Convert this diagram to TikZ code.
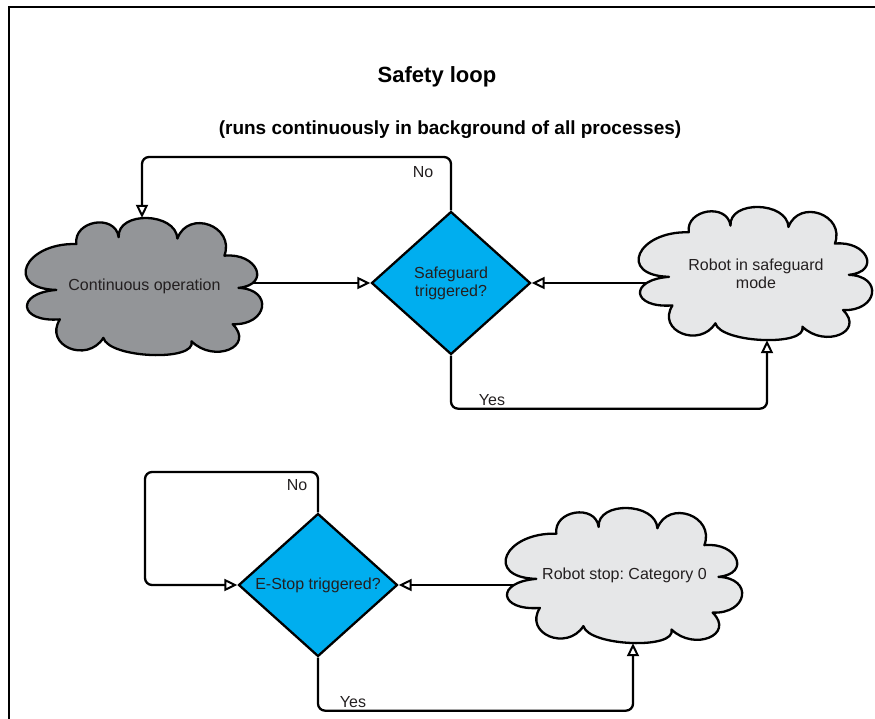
\documentclass[tikz,border=0pt]{standalone}
\usepackage{fontspec}
\setmainfont{Liberation Sans}
\usetikzlibrary{shapes.geometric,arrows.meta,backgrounds}
\definecolor{diafill}{RGB}{0,174,239}
\definecolor{darkcloud}{RGB}{147,149,152}
\definecolor{lightcloud}{RGB}{230,231,232}
\definecolor{txt}{RGB}{35,31,32}
\frenchspacing
\newcommand{\mycloudpath}{(-0.75,0.05) .. controls (-1.197,0.03) and (-1.027,-0.64) .. (-0.58,-0.62) .. controls (-0.607,-0.967) and (-0.247,-1.067) .. (-0.22,-0.72) .. controls (-0.233,-1.107) and (0.267,-1.087) .. (0.28,-0.70) .. controls (0.373,-1.133) and (0.773,-0.883) .. (0.68,-0.45) .. controls (0.96,-0.497) and (1.08,-0.027) .. (0.80,0.02) .. controls (1.10,0.04) and (1.05,0.57) .. (0.75,0.55) .. controls (0.943,0.877) and (0.593,1.127) .. (0.40,0.80) .. controls (0.447,1.10) and (-0.303,1.05) .. (-0.35,0.75) .. controls (-0.49,1.13) and (-0.86,0.86) .. (-0.72,0.48) .. controls (-1.073,0.527) and (-1.103,0.097) .. (-0.75,0.05) -- cycle}
\begin{document}
\begin{tikzpicture}[x=1pt,y=-1pt,
  lbl/.style={font=\fontsize{16}{18}\selectfont, text=txt, inner sep=0pt},
  decision/.style={diamond, draw, line width=2.3pt, fill=diafill, minimum width=159pt, minimum height=143pt, inner sep=0pt, align=center, font=\fontsize{16}{18}\selectfont, text=txt},
  cloudbox/.style={rectangle, inner sep=0pt, align=center, font=\fontsize{16}{18}\selectfont, text=txt},
  cloudline/.style={draw, line width=2.3pt, line join=round},
  conn/.style={line width=2.3pt, rounded corners=7pt},
  arr/.style={conn, -{Triangle[open, length=13pt, width=12pt, line width=2pt]}}
]
\useasboundingbox (0,0) rectangle (875,719);
\draw[line width=2.3pt] (9,719) -- (9,7) -- (875,7);

\node (title) at (437,77) {\fontsize{22}{26}\selectfont\bfseries Safety loop};
\node (sub) at (450,130) {\fontsize{19}{22}\selectfont\bfseries (runs continuously in background of all processes)};

% top loop
\node[decision] (d1) at (451,283) {Safeguard\\triggered?};
\node[cloudbox, minimum width=235pt, minimum height=137pt] (cA) at (144.5,286.5) {Continuous operation};
\node[cloudbox, minimum width=232pt, minimum height=133pt] (cB) at (756,273.5) {Robot in safeguard\\mode};
\coordinate (l1) at (142,157);

% bottom loop
\node[decision] (d2) at (318,585) {E-Stop triggered?};
\node[cloudbox, minimum width=235pt, minimum height=135pt] (cC) at (624.5,575.5) {Robot stop: Category 0};
\coordinate (l2) at (145,472);

\node[lbl] (no1) at (423,172) {No};
\node[lbl] (yes1) at (492,400) {Yes};
\node[lbl] (no2) at (297,485) {No};
\node[lbl] (yes2) at (353,702) {Yes};

\begin{scope}[on background layer]
  \draw[arr] (cA.center |- d1.west) -- (d1.west);
  \draw[arr] (cB.center |- d1.east) -- (d1.east);
  \draw[arr] (d1.north) |- (l1) -- (l1 |- cA.north);
  \draw[arr] (d1.south) -- ++(0,53) -| ([xshift=11pt]cB.south);
  \draw[arr] (cC.center |- d2.east) -- (d2.east);
  \draw[arr] (d2.north) |- (l2) |- (d2.west);
  \draw[arr] (d2.south) -- ++(0,53) -| ([xshift=8.5pt]cC.south);
  \draw[cloudline, fill=darkcloud, shift={(cA.center)}, xscale=117.5, yscale=68.5] \mycloudpath;
  \draw[cloudline, fill=lightcloud, shift={(cB.center)}, xscale=116, yscale=66.5] \mycloudpath;
  \draw[cloudline, fill=lightcloud, shift={(cC.center)}, xscale=117.5, yscale=67.5] \mycloudpath;
\end{scope}
\end{tikzpicture}
\end{document}
